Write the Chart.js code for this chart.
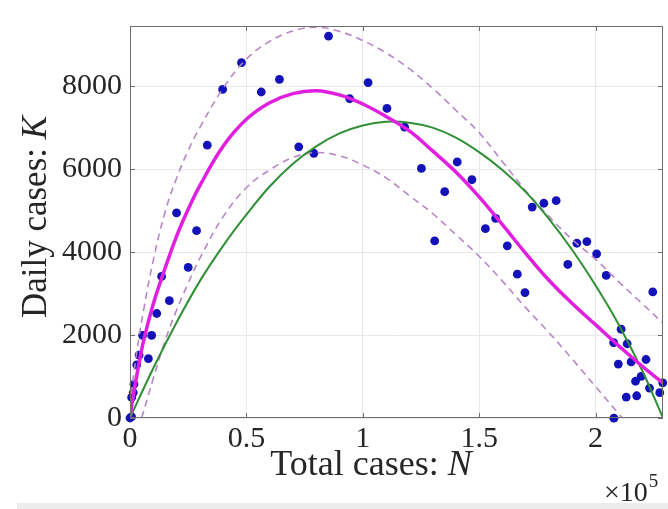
<!DOCTYPE html>
<html><head><meta charset="utf-8">
<script src="https://cdn.jsdelivr.net/npm/chart.js@4/dist/chart.umd.min.js"></script>
<style>html,body{margin:0;padding:0;background:#fff;}canvas{display:block;}</style>
</head><body>
<canvas id="c" width="668" height="509"></canvas>
<script>
// ---- axis definitions (N in units of 10^5) ----
const xTickValues = [0, 0.5, 1, 1.5, 2];
const xTickLabels = ['0', '0.5', '1', '1.5', '2'];
const yTickValues = [0, 2000, 4000, 6000, 8000];
const yTickLabels = ['0', '2000', '4000', '6000', '8000'];
const xLimits = [0, 2.29];
const yLimits = [0, 9450];

// ---- observed data: total cases N (x10^5) vs daily cases K ----
const obsN = [0, 0.007, 0.007, 0.014, 0.017, 0.029, 0.039, 0.079, 0.054, 0.093, 0.115, 0.169, 0.136, 0.25, 0.2, 0.286,
  0.332, 0.398, 0.479, 0.564, 0.642, 0.853, 0.725, 0.79, 0.944, 1.023, 1.104, 1.18, 1.252, 1.406, 1.469, 1.352, 1.309,
  1.527, 1.571, 1.621, 1.728, 1.778, 1.831, 1.881, 1.664, 1.697, 1.92, 1.963, 2.005, 2.046, 2.246, 2.11, 2.136, 2.078,
  2.098, 2.153, 2.217, 2.196, 2.172, 2.232, 2.289, 2.276, 2.132, 2.177, 2.079];
const obsK = [0, 30, 497, 613, 816, 1283, 1516, 1430, 1990, 1990, 2519, 2829, 3412, 3631, 4944, 4517,
  6576, 7922, 8566, 7859, 8162, 9204, 6537, 6382, 7696, 8085, 7462, 7012, 6017, 6172, 5744, 5457, 4268,
  4563, 4812, 4151, 5084, 5177, 5240, 3701, 3467, 3024, 4213, 4252, 3957, 3436, 3039, 2140, 1790, 1819,
  1300, 1353, 1410, 1003, 886, 720, 847, 610, 505, 536, -5];

// ---- magenta fitted curve ----
const fitN = [0, 0.01, 0.03, 0.06, 0.1, 0.15, 0.2, 0.25, 0.3, 0.4, 0.5, 0.6, 0.7, 0.8, 0.9, 1.0, 1.1, 1.2, 1.3, 1.4,
  1.5, 1.6, 1.7, 1.8, 1.9, 2.0, 2.1, 2.2, 2.29];
const fitK = [0, 400, 1050, 1900, 2750, 3600, 4380, 5030, 5600, 6550, 7200, 7600, 7820, 7890, 7790, 7570, 7270, 6920, 6440, 5930,
  5330, 4660, 3970, 3320, 2760, 2250, 1740, 1250, 847];
// ---- upper / lower dashed bounds ----
const upperK = [0, 750, 1620, 2650, 3800, 4950, 5780, 6450, 7000, 7950, 8650, 9080, 9330, 9420, 9320, 9100, 8800, 8420, 7950, 7420,
  6880, 6180, 5480, 4860, 4300, 3830, 3280, 2760, 2285];
const lowerN = [0.05, 0.1, 0.15, 0.2, 0.25, 0.3, 0.4, 0.5, 0.6, 0.7, 0.8, 0.9, 1.0, 1.1, 1.2, 1.3, 1.4, 1.5, 1.6, 1.7, 1.8, 1.9, 2.0, 2.1, 2.115];
const lowerK = [0, 950, 1850, 2600, 3250, 3850, 4850, 5550, 5980, 6280, 6400, 6320, 6100, 5790, 5360, 4930, 4420, 3900, 3300, 2660,
  2060, 1420, 760, 100, 0];
// ---- green logistic curve ----
const logN = [0, 0.1, 0.2, 0.3, 0.4, 0.5, 0.6, 0.7, 0.8, 0.9, 1.0, 1.1, 1.2, 1.3, 1.4, 1.5, 1.6, 1.7, 1.8, 1.9, 2.0, 2.1, 2.2, 2.29];
const logK = [0, 1200, 2300, 3300, 4150, 4900, 5580, 6130, 6550, 6860, 7050, 7140, 7120, 7000, 6760, 6410, 5980, 5450, 4800,
  4050, 3200, 2250, 1150, 0];

const pts = (xs, ys) => xs.map((x, i) => ({x: x, y: ys[i]}));
const serif = 'Liberation Serif, Times New Roman, serif';
const textColor = '#262626';

function drawParts(ctx, parts, cx, cy) {
  let w = 0;
  parts.forEach(p => { ctx.font = p.font; p.w = ctx.measureText(p.t).width; w += p.w; });
  let x = cx - w / 2;
  parts.forEach(p => { ctx.font = p.font; ctx.fillText(p.t, x, cy); x += p.w; });
}

const deco = {
  id: 'deco',
  beforeDraw(chart) {
    const ctx = chart.ctx;
    ctx.save();
    ctx.fillStyle = '#ffffff';
    ctx.fillRect(0, 0, chart.width, chart.height);
    ctx.fillStyle = '#ececec';
    ctx.fillRect(17, 503, chart.width - 17, 6);
    ctx.restore();
  },
  afterDraw(chart) {
    const ctx = chart.ctx, a = chart.chartArea;
    const xs = chart.scales.x, ys = chart.scales.y;
    ctx.save();
    ctx.strokeStyle = '#6e6e6e';
    ctx.lineWidth = 1;
    ctx.strokeRect(a.left + 0.5, a.top + 0.5, a.right - a.left - 1, a.bottom - a.top - 1);
    ctx.beginPath();
    xTickValues.forEach(v => {
      const px = Math.round(xs.getPixelForValue(v)) + 0.5;
      ctx.moveTo(px, a.bottom); ctx.lineTo(px, a.bottom - 5);
      ctx.moveTo(px, a.top); ctx.lineTo(px, a.top + 5);
    });
    yTickValues.forEach(v => {
      const py = Math.round(ys.getPixelForValue(v)) + 0.5;
      ctx.moveTo(a.left, py); ctx.lineTo(a.left + 5, py);
      ctx.moveTo(a.right, py); ctx.lineTo(a.right - 5, py);
    });
    ctx.stroke();

    ctx.fillStyle = textColor;
    ctx.textBaseline = 'middle';
    ctx.textAlign = 'left';
    // x-axis title
    drawParts(ctx, [
      {t: 'Total cases: ', font: '36px ' + serif},
      {t: 'N', font: 'italic 36px ' + serif}
    ], 371, 466);
    // y-axis title
    ctx.save();
    ctx.translate(37, 217);
    ctx.rotate(-Math.PI / 2);
    drawParts(ctx, [
      {t: 'Daily cases: ', font: '35px ' + serif},
      {t: 'K', font: 'italic 35px ' + serif}
    ], 0, 0);
    ctx.restore();
    // exponent label
    ctx.textBaseline = 'alphabetic';
    ctx.font = '28px ' + serif;
    ctx.fillText('\u00d710', 604, 501);
    const w = ctx.measureText('\u00d710').width;
    ctx.font = '19px ' + serif;
    ctx.fillText('5', 604 + w + 1, 487);
    ctx.restore();
  }
};

new Chart(document.getElementById('c'), {
  type: 'scatter',
  data: {
    datasets: [
      {data: pts(fitN, fitK), showLine: true, borderColor: '#e11fe1', borderWidth: 3.5, pointRadius: 0,
        tension: 0.4, fill: false},
      {data: pts(logN, logK), showLine: true, borderColor: '#2f8f35', borderWidth: 2, pointRadius: 0,
        tension: 0.4, fill: false},
      {data: pts(fitN, upperK), showLine: true, borderColor: '#b886c8', borderWidth: 1.6, borderDash: [7, 5], pointRadius: 0,
        tension: 0.4, fill: false},
      {data: pts(lowerN, lowerK), showLine: true, borderColor: '#b886c8', borderWidth: 1.6, borderDash: [7, 5], pointRadius: 0,
        tension: 0.4, fill: false},
      {data: pts(obsN, obsK), showLine: false, pointRadius: 4.4, pointBackgroundColor: '#1212b8', pointBorderWidth: 0,
        clip: false}
    ]
  },
  options: {
    responsive: false,
    animation: false,
    devicePixelRatio: 1,
    layout: {padding: {top: 13, right: 5, left: 0, bottom: 0}},
    plugins: {legend: {display: false}, tooltip: {enabled: false}},
    scales: {
      x: {
        type: 'linear', min: xLimits[0], max: xLimits[1],
        afterFit: s => { s.height = 91; },
        afterBuildTicks: s => { s.ticks = xTickValues.map(v => ({value: v})); },
        ticks: {callback: (v, i) => xTickLabels[i], font: {family: serif, size: 30}, color: textColor,
          padding: 3, maxRotation: 0, autoSkip: false},
        grid: {color: '#e8e8e8', drawTicks: false},
        border: {display: false}
      },
      y: {
        type: 'linear', min: yLimits[0], max: yLimits[1],
        afterFit: s => { s.width = 130; },
        afterBuildTicks: s => { s.ticks = yTickValues.map(v => ({value: v})); },
        ticks: {callback: (v, i) => yTickLabels[i], font: {family: serif, size: 30}, color: textColor,
          padding: 8, autoSkip: false},
        grid: {color: '#e8e8e8', drawTicks: false},
        border: {display: false}
      }
    }
  },
  plugins: [deco]
});
</script>
</body></html>
